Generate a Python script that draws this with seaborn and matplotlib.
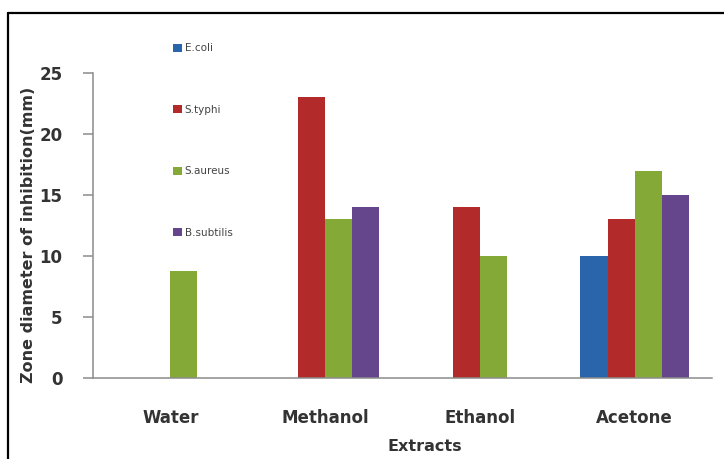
import matplotlib
matplotlib.use('Agg')
import matplotlib.pyplot as plt
from matplotlib.lines import Line2D
import seaborn as sns
import pandas as pd

extracts = ['Water', 'Methanol', 'Ethanol', 'Acetone']
organisms = ['E.coli', 'S.typhi', 'S.aureus', 'B.subtilis']
e_coli = [0, 0, 0, 10]
s_typhi = [0, 23, 14, 13]
s_aureus = [8.8, 13, 10, 17]
b_subtilis = [0, 14, 0, 15]
colors = ['#2A65AC', '#B22A2A', '#84A937', '#65468C']
yticks = [0, 5, 10, 15, 20, 25]

rows = []
for org, vals in zip(organisms, [e_coli, s_typhi, s_aureus, b_subtilis]):
    for ext, v in zip(extracts, vals):
        rows.append({'Extracts': ext, 'Organism': org, 'Zone': v})
df = pd.DataFrame(rows)

sns.set_style('white')
plt.rcParams['font.family'] = ['DejaVu Sans']

fig = plt.figure(figsize=(7.24, 4.59), dpi=100)
ax = fig.add_axes([93 / 724, 81 / 459, 619 / 724, 305 / 459])

sns.barplot(data=df, x='Extracts', y='Zone', hue='Organism', order=extracts,
            hue_order=organisms, palette=colors, width=0.7, saturation=1,
            linewidth=0, ax=ax)

ax.set_xlim(-0.5, 3.5)
ax.set_ylim(0, 25)
ax.set_yticks(yticks)
ax.set_yticklabels([str(t) for t in yticks], fontsize=12, fontweight='bold', color='#333333')

# category labels at centres, tick marks at the boundaries
ax.set_xticks(range(len(extracts)))
ax.set_xticklabels(extracts, fontsize=12, fontweight='bold', color='#333333')
ax.set_xticks([i - 0.5 for i in range(len(extracts) + 1)], minor=True)
ax.tick_params(axis='x', which='major', length=0, pad=22)
ax.tick_params(axis='x', which='minor', length=6, width=1.1, color='#8c8c8c', direction='out')
ax.tick_params(axis='y', length=7, width=1.1, color='#8c8c8c', direction='out', pad=15, left=True)

for s in ['top', 'right']:
    ax.spines[s].set_visible(False)
for s in ['left', 'bottom']:
    ax.spines[s].set_color('#8c8c8c')
    ax.spines[s].set_linewidth(1.1)

ax.set_xlabel('Extracts', fontsize=11.5, fontweight='bold', color='#333333')
ax.xaxis.set_label_coords((425 - 93) / 619, -0.2)
ax.set_ylabel('Zone diameter of inhibition(mm)', fontsize=11.5, fontweight='bold', color='#333333')
ax.yaxis.set_label_coords((36 - 93) / 619, 0.47)

handles, labels = ax.get_legend_handles_labels()
ax.legend(handles, labels, loc='upper left', bbox_to_anchor=(168 / 724, 1 - 38 / 459),
          bbox_transform=fig.transFigure, frameon=False, fontsize=7.5,
          labelspacing=4.95, handlelength=0.8, handleheight=0.8, handletextpad=0.3,
          borderpad=0, labelcolor='#444444')

# outer frame lines (top and left)
fig.add_artist(Line2D([8 / 724, 1], [1 - 13 / 459, 1 - 13 / 459], color='black', linewidth=1.6,
                      transform=fig.transFigure))
fig.add_artist(Line2D([8 / 724, 8 / 724], [0, 1 - 13 / 459], color='black', linewidth=1.6,
                      transform=fig.transFigure))

fig.savefig('out.png', dpi=100)
